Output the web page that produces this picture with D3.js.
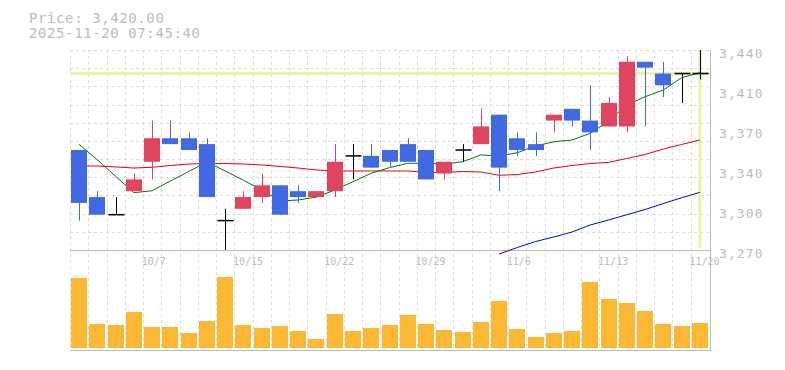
<!DOCTYPE html>
<html><head><meta charset="utf-8">
<script src="https://cdn.jsdelivr.net/npm/d3@7"></script>
<style>
body{margin:0;background:#fff}
svg{display:block}
text{font-family:"DejaVu Sans Mono","Liberation Mono",monospace;fill:#bbb}
</style>
</head><body>
<svg id="c" width="785" height="370"></svg>
<script>
// ---- data ----
const dates = ["10/1","10/2","10/3","10/6","10/7","10/8","10/9","10/10","10/14","10/15",
  "10/16","10/17","10/20","10/21","10/22","10/23","10/24","10/27","10/28","10/29",
  "10/30","10/31","11/4","11/5","11/6","11/7","11/10","11/11","11/12","11/13",
  "11/14","11/17","11/18","11/19","11/20"];
const openP  = [3355,3315,3300,3320,3345,3365,3365,3360,3295,3305,3315,3325,3320,3315,3320,3350,3350,3355,3360,3355,3335,3355,3360,3385,3365,3360,3380,3390,3380,3375,3375,3430,3420,3420,3420];
const highP  = [3355,3320,3315,3335,3380,3380,3370,3365,3305,3320,3335,3325,3325,3320,3360,3360,3360,3355,3365,3355,3345,3360,3390,3385,3370,3370,3385,3390,3410,3400,3435,3430,3430,3420,3440];
const lowP   = [3295,3300,3300,3320,3330,3360,3355,3315,3270,3305,3310,3300,3310,3315,3315,3330,3340,3340,3345,3330,3330,3345,3360,3320,3350,3350,3370,3375,3355,3375,3370,3375,3400,3395,3415];
const closeP = [3310,3300,3300,3330,3365,3360,3355,3315,3295,3315,3325,3300,3315,3320,3345,3350,3340,3345,3345,3330,3345,3355,3375,3340,3355,3355,3385,3380,3370,3395,3430,3425,3410,3420,3420];
const volume = [70,24,23,36,21,21,15,27,71,23,20,22,17,9,34,17,20,23,33,24,18,16,26,47,19,11,15,17,66,49,45,37,24,22,25];
const maShort = [3359.8,3346.7,3332.6,3318.7,3320.4,3328.7,3336.7,3344.8,3337.2,3329.3,3321,3311.7,3312.5,3315,3321,3328.1,3335.2,3340,3343.7,3343.7,3343.1,3345,3350.8,3349.9,3352.7,3358.4,3362,3363.5,3369.2,3379.7,3393.3,3400.3,3406,3416.5,3420.7];
const maMid = [3341.4,3341.4,3340.6,3339.7,3340.3,3341.8,3343.1,3343.5,3343.5,3343.1,3342.3,3341,3339.7,3338,3337.2,3337.2,3337.2,3337.2,3337.2,3335.9,3336,3336.7,3336.3,3333.5,3334.2,3336.3,3339.7,3341.8,3343.5,3344.5,3347.8,3351.2,3355.9,3359.7,3363.5];
const maLong = [null,null,null,null,null,null,null,null,null,null,null,null,null,null,null,null,null,null,null,null,null,null,null,3266.6,3272.1,3277.2,3281.1,3285.3,3291.3,3295.5,3300,3304.4,3309.5,3314.4,3319];
const yTickValues = [3270,3304,3338,3372,3406,3440];
const dateLabels = ["10/7","10/15","10/22","10/29","11/6","11/13","11/20"];
const currentPrice = 3420;
const titleLines = ["Price: 3,420.00","2025-11-20 07:45:40"];

// ---- layout ----
const svg = d3.select("#c");
const L = 70, R = 709, PT = 50, PB = 250, VB = 348, VAX = 350;
const x = d3.scaleBand().domain(dates).range([L, R]).padding(0);
const bw = 16;
const cx = d => x(d) + x.bandwidth()/2;
const y = d3.scaleLinear().domain([3270, 3440]).range([PB, PT]);
const yv = d3.scaleLinear().domain([0, 80]).range([VB, VB-80]);
const UP = "#e0445f", DN = "#4169e1";

// grid
const g = svg.append("g").attr("stroke","#dcdcdc").attr("stroke-dasharray","3,3").attr("stroke-width",1);
const bounds = dates.map(d => x(d));
bounds.forEach(b => {
  g.append("line").attr("x1",Math.round(b)+0.5).attr("x2",Math.round(b)+0.5).attr("y1",PT).attr("y2",VAX);
});
d3.range(12).map(k => 3270 + k*170/11).forEach(v => {
  if (Math.abs(y(v)-PB) < 1) return;
  g.append("line").attr("x1",L).attr("x2",R+1).attr("y1",Math.round(y(v))+0.5).attr("y2",Math.round(y(v))+0.5);
});

// highlight (current price / current date)
const lastX = cx(dates[dates.length-1]);
svg.append("line").attr("x1",L).attr("x2",R+1).attr("y1",y(currentPrice)).attr("y2",y(currentPrice))
  .attr("stroke","#e5f5a6").attr("stroke-width",3);
svg.append("line").attr("x1",lastX).attr("x2",lastX).attr("y1",PT).attr("y2",PB-2)
  .attr("stroke","#e5f5a6").attr("stroke-width",3);

// axes lines
svg.append("line").attr("x1",L).attr("x2",R+1).attr("y1",PB+0.5).attr("y2",PB+0.5).attr("stroke","#bbb");
svg.append("line").attr("x1",L).attr("x2",R+1).attr("y1",VAX+0.5).attr("y2",VAX+0.5).attr("stroke","#bbb");
svg.append("line").attr("x1",R+1.5).attr("x2",R+1.5).attr("y1",PT).attr("y2",VAX+1).attr("stroke","#bbb");

// moving averages
const mkLine = arr => d3.line().defined(d => d != null).x((d,i) => cx(dates[i])).y(d => y(d))(arr);
[[maLong,"#0000ee"],[maMid,"#ee0000"],[maShort,"#007700"]].forEach(([arr,col]) => {
  svg.append("path").attr("d", mkLine(arr)).attr("fill","none").attr("stroke",col).attr("stroke-width",1);
});

// candles
const cg = svg.append("g");
dates.forEach((d,i) => {
  const o = openP[i], c = closeP[i], h = highP[i], l = lowP[i];
  const xc = Math.round(cx(d)) + 0.5;
  const col = c > o ? UP : (c < o ? DN : "#000");
  cg.append("line").attr("x1",xc).attr("x2",xc).attr("y1",y(h)).attr("y2",y(l)).attr("stroke",col).attr("stroke-width",1);
  if (c === o) {
    cg.append("line").attr("x1",xc-bw/2).attr("x2",xc+bw/2).attr("y1",y(c)).attr("y2",y(c)).attr("stroke","#000").attr("stroke-width",1.5);
  } else {
    cg.append("rect").attr("x",xc-0.5-bw/2).attr("width",bw)
      .attr("y",y(Math.max(o,c))).attr("height",Math.abs(y(o)-y(c))).attr("fill",col);
  }
});

// volume
svg.append("g").selectAll("rect").data(volume).join("rect")
  .attr("x",(v,i) => Math.round(cx(dates[i])) - bw/2)
  .attr("width",bw)
  .attr("y",v => yv(v)).attr("height",v => VB - yv(v))
  .attr("fill","#fdb833");

// y axis labels
const ya = svg.append("g").attr("transform",`translate(${R+1},0)`)
  .call(d3.axisRight(y).tickValues(yTickValues).tickSize(0).tickPadding(9)
    .tickFormat(v => d3.format(",")(Math.round(v/10)*10)));
ya.select(".domain").remove();
ya.selectAll("text").attr("fill","#bbb").attr("font-size",13).attr("letter-spacing",1.1)
  .attr("dy","0.55em").style("font-family",'"DejaVu Sans Mono","Liberation Mono",monospace');

// date labels
svg.append("g").selectAll("text").data(dateLabels).join("text")
  .attr("x", d => cx(d) - 10.5).attr("y", 265)
  .attr("font-size",10).text(d => d);

// title
svg.append("g").selectAll("text").data(titleLines).join("text")
  .attr("x",29).attr("y",(d,i) => 22.5 + i*15)
  .attr("font-size",14).attr("letter-spacing",0.6).text(d => d);
</script>
</body></html>
